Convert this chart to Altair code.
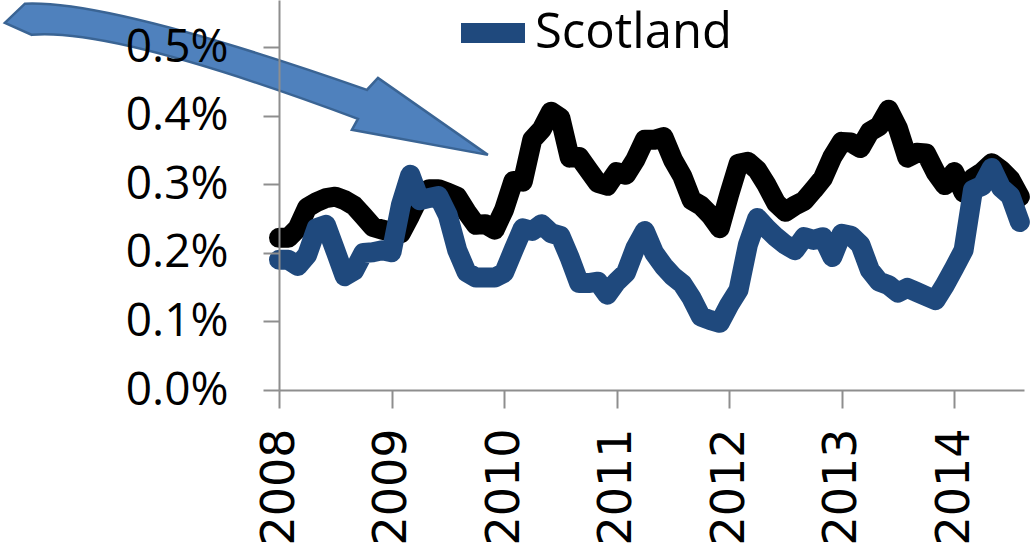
import altair as alt
import pandas as pd

# ---------------- data (monthly, Jan 2008 .. Aug 2014), values in percent ----
start_year = 2008
year_ticks = [2008, 2009, 2010, 2011, 2012, 2013, 2014]
pct_ticks = [0.0, 0.1, 0.2, 0.3, 0.4, 0.5]

uk = [0.222, 0.222, 0.236, 0.266, 0.274, 0.280, 0.282, 0.277, 0.269, 0.254,
      0.238, 0.234, 0.231, 0.229, 0.255, 0.283, 0.293, 0.293, 0.288, 0.282,
      0.260, 0.241, 0.242, 0.234, 0.263, 0.305, 0.304, 0.365, 0.380, 0.406,
      0.397, 0.339, 0.340, 0.321, 0.302, 0.298, 0.318, 0.314, 0.336, 0.365,
      0.365, 0.369, 0.336, 0.312, 0.277, 0.269, 0.255, 0.236, 0.285, 0.330,
      0.333, 0.321, 0.299, 0.273, 0.260, 0.269, 0.276, 0.292, 0.309, 0.340,
      0.362, 0.361, 0.353, 0.377, 0.385, 0.409, 0.382, 0.339, 0.346, 0.345,
      0.318, 0.299, 0.318, 0.288, 0.309, 0.318, 0.331, 0.321, 0.307, 0.282]

scotland = [0.190, 0.190, 0.181, 0.197, 0.236, 0.241, 0.204, 0.166, 0.174, 0.200,
            0.201, 0.204, 0.201, 0.270, 0.314, 0.277, 0.280, 0.283, 0.255, 0.204,
            0.172, 0.164, 0.164, 0.164, 0.171, 0.204, 0.236, 0.232, 0.242, 0.229,
            0.225, 0.193, 0.156, 0.156, 0.158, 0.139, 0.158, 0.171, 0.207, 0.232,
            0.200, 0.181, 0.166, 0.155, 0.134, 0.107, 0.102, 0.098, 0.124, 0.146,
            0.212, 0.251, 0.236, 0.223, 0.212, 0.204, 0.223, 0.219, 0.223, 0.194,
            0.228, 0.225, 0.212, 0.175, 0.158, 0.153, 0.142, 0.149, 0.143, 0.137,
            0.131, 0.153, 0.178, 0.204, 0.292, 0.298, 0.324, 0.295, 0.283, 0.245]

series_names = ["UK", "Scotland"]
series_colors = ["#000000", "#1F497D"]

# decorative arrow annotation anchor (data coordinates)
arrow_year = [2007.71]
arrow_pct = [0.454]

# ---------------- tables ----------------------------------------------------
rows = []
for name, vals in zip(series_names, [uk, scotland]):
    for i, v in enumerate(vals):
        rows.append({"year": start_year + i / 12.0, "series": name, "value": v / 100.0})
df = pd.DataFrame(rows)
arrow_df = pd.DataFrame({"year": arrow_year, "value": [p / 100.0 for p in arrow_pct]})

x_scale = alt.Scale(domain=[2008, 2014.62], nice=False, zero=False)
y_scale = alt.Scale(domain=[0, 0.00569], nice=False)
color_scale = alt.Scale(domain=series_names, range=series_colors)

axis_col = "#8E8E8E"
x_axis = alt.Axis(values=year_ticks, format="d", labelAngle=270, labelFont="DejaVu Sans",
                  labelFontSize=46, labelColor="#000000", labelPadding=20, tickSize=18,
                  tickColor=axis_col, tickWidth=2, domainColor=axis_col, domainWidth=2,
                  grid=False, title=None, zindex=1, labelOverlap=False)
y_axis = alt.Axis(values=[t / 100.0 for t in pct_ticks], format=".1%", labelFont="Open Sans",
                  labelFontSize=46, labelColor="#000000", labelPadding=35, tickSize=16,
                  tickColor=axis_col, tickWidth=2, domainColor=axis_col, domainWidth=2,
                  grid=False, title=None, zindex=1)

arrow_path = ("M -0.917 -0.311 Q -0.565 -0.327 0.499 0.046 L 0.545 -0.004 L 1.0 0.315 "
              "L 0.437 0.211 L 0.462 0.166 Q -0.545 -0.211 -0.888 -0.182 L -1.0 -0.232 Z")

arrow = alt.Chart(arrow_df).mark_point(
    shape=arrow_path, size=233289, filled=True, fill="#4F81BD", stroke="#3A6494",
    strokeWidth=2.5, opacity=1
).encode(
    x=alt.X("year:Q", scale=x_scale, axis=x_axis),
    y=alt.Y("value:Q", scale=y_scale, axis=y_axis),
)

legend = alt.Legend(values=["Scotland"], title=None, orient="none", legendX=172, legendY=-9,
                    symbolType="stroke", symbolSize=4096, symbolStrokeWidth=20,
                    symbolStrokeColor="#1F497D", labelFont="Open Sans", labelFontSize=49,
                    labelColor="#000000", labelOffset=0, labelLimit=0, padding=0)

def line_layer(name):
    return alt.Chart(df).transform_filter(alt.datum.series == name).mark_line(
        strokeWidth=20, strokeCap="round", strokeJoin="round"
    ).encode(
        x=alt.X("year:Q", scale=x_scale, axis=x_axis),
        y=alt.Y("value:Q", scale=y_scale, axis=y_axis),
        color=alt.Color("series:N", scale=color_scale, legend=legend),
    )

chart = alt.layer(arrow, line_layer("UK"), line_layer("Scotland")).properties(
    width=745, height=390,
    padding={"left": 279, "top": 0, "right": 8, "bottom": 158},
    autosize=alt.AutoSizeParams(type="none"),
    background="#FFFFFF",
).configure_view(stroke=None)

chart.save("out.html", embed_options={"renderer": "svg", "actions": False})
